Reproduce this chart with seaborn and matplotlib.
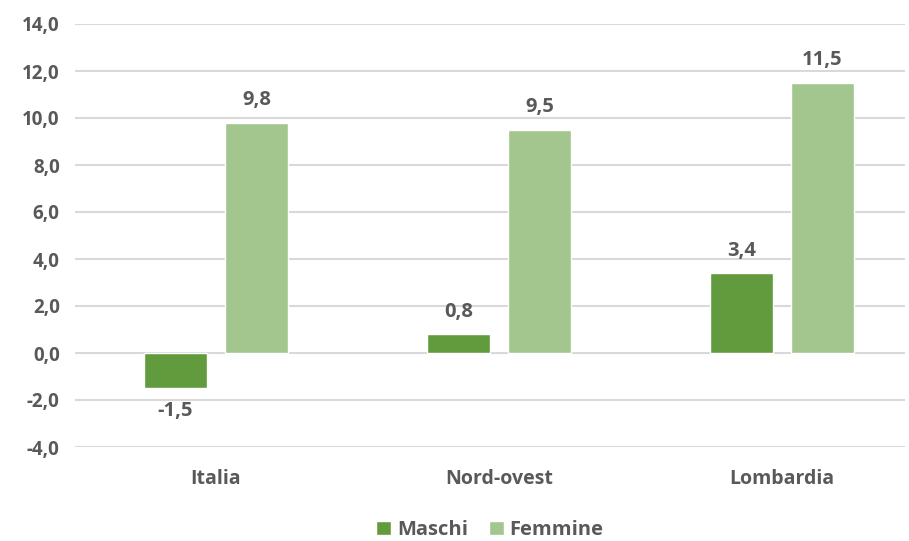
import matplotlib
matplotlib.use("Agg")
import matplotlib.pyplot as plt
import seaborn as sns
import pandas as pd

categories = ["Italia", "Nord-ovest", "Lombardia"]
series = ["Maschi", "Femmine"]
maschi = [-1.5, 0.8, 3.4]
femmine = [9.8, 9.5, 11.5]
yticks = [-4, -2, 0, 2, 4, 6, 8, 10, 12, 14]

colors = {"Maschi": "#629B3E", "Femmine": "#A3C68F"}
text_color = "#595959"

df = pd.DataFrame({
    "categoria": categories * 2,
    "serie": ["Maschi"] * 3 + ["Femmine"] * 3,
    "valore": maschi + femmine,
})

sns.set_theme(style="white")
plt.rcParams["font.family"] = ["Open Sans", "DejaVu Sans"]
plt.rcParams["font.weight"] = "bold"

fig = plt.figure(figsize=(9.09, 5.41), dpi=100)
ax = fig.add_axes([75 / 909, 1 - 447 / 541, 830 / 909, 423 / 541])

sns.barplot(data=df, x="categoria", y="valore", hue="serie", hue_order=series,
            order=categories, palette=colors, width=0.572, gap=0.222,
            saturation=1, ax=ax, legend=True, zorder=3)

ax.set_ylim(-4, 14)
ax.set_xlim(-0.498, 2.435)
ax.set_yticks(yticks)
ax.set_yticklabels([f"{v:.1f}".replace(".", ",") for v in yticks])
ax.yaxis.grid(True, color="#D9D9D9", linewidth=1.5, zorder=0)
ax.set_axisbelow(True)
for s in ax.spines.values():
    s.set_visible(False)
ax.set_xlabel("")
ax.set_ylabel("")
ax.tick_params(axis="y", length=0, pad=11, labelsize=13.5, labelcolor=text_color)
ax.tick_params(axis="x", length=0, pad=16, labelsize=14, labelcolor=text_color)
for lab in ax.get_xticklabels() + ax.get_yticklabels():
    lab.set_fontweight("bold")

for cont in ax.containers:
    labels = [f"{v:.1f}".replace(".", ",") for v in cont.datavalues]
    ax.bar_label(cont, labels=labels, padding=9, fontsize=14.5,
                 fontweight="bold", color=text_color)

handles, labs = ax.get_legend_handles_labels()
ax.legend(handles, labs, loc="center", bbox_to_anchor=(0.5, (1 - 530 / 541 - (1 - 447 / 541)) / (423 / 541)),
          bbox_transform=ax.transAxes, ncol=2, frameon=False,
          handlelength=0.75, handleheight=0.75, handletextpad=0.3, columnspacing=1.0,
          labelcolor=text_color, prop={"weight": "bold", "size": 14.5})

fig.savefig("out.png", dpi=100)
